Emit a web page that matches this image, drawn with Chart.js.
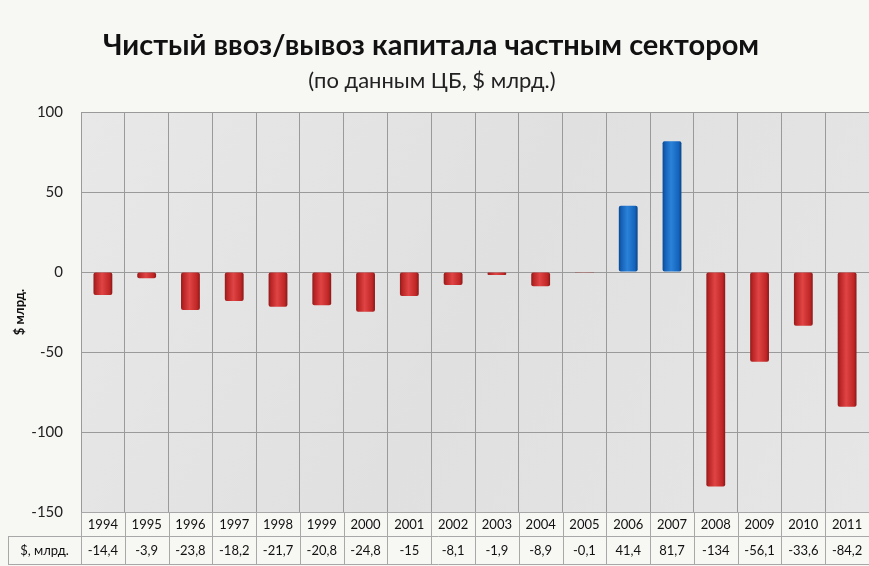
<!DOCTYPE html>
<html><head><meta charset="utf-8">
<script src="https://cdn.jsdelivr.net/npm/chart.js@4/dist/chart.umd.min.js"></script>
<style>html,body{margin:0;padding:0;background:#f7f7f4;overflow:hidden}#wrap{width:869px;height:566px}</style>
</head><body><div id="wrap"><canvas id="c" width="869" height="566"></canvas></div>
<script>
const years = ['1994','1995','1996','1997','1998','1999','2000','2001','2002','2003','2004','2005','2006','2007','2008','2009','2010','2011'];
const values = [-14.4,-3.9,-23.8,-18.2,-21.7,-20.8,-24.8,-15,-8.1,-1.9,-8.9,-0.1,41.4,81.7,-134,-56.1,-33.6,-84.2];
const yTicks = [100,50,0,-50,-100,-150];
const rowLabel = '$, млрд.';
const titleText = 'Чистый ввоз/вывоз капитала частным сектором';
const subtitleText = '(по данным ЦБ, $ млрд.)';
const yTitle = '$ млрд.';
const FONT = 'Lato, "Open Sans", sans-serif';

function fmt(v){ return String(v).replace('.', ','); }

function barFill(c){
  const v = c.raw;
  const neg = v < 0;
  const chart = c.chart, xs = chart.scales.x;
  if (!xs || c.dataIndex === undefined || !chart.chartArea) return neg ? '#c62a2a' : '#1769c4';
  const cx = xs.getPixelForValue(c.dataIndex);
  const w = xs.width / years.length * 0.43;
  const g = chart.ctx.createLinearGradient(cx - w/2, 0, cx + w/2, 0);
  if (neg) {
    g.addColorStop(0, '#8f1c1c'); g.addColorStop(0.12, '#b82424');
    g.addColorStop(0.45, '#e04444'); g.addColorStop(0.85, '#c02626'); g.addColorStop(1, '#8a1818');
  } else {
    g.addColorStop(0, '#0b4a8f'); g.addColorStop(0.12, '#135fb5');
    g.addColorStop(0.45, '#2a82d8'); g.addColorStop(0.85, '#1463bc'); g.addColorStop(1, '#0a4585');
  }
  return g;
}

const bgPlugin = {
  id: 'bg',
  beforeDraw(chart){
    const {ctx, chartArea:a} = chart;
    ctx.save();
    ctx.fillStyle = '#f7f7f4';
    ctx.fillRect(0,0,chart.width,chart.height);
    const g = ctx.createLinearGradient(a.left, a.top, a.right, a.bottom);
    g.addColorStop(0, '#e8e8e8'); g.addColorStop(0.5, '#e0e0e0'); g.addColorStop(1, '#e6e6e6');
    ctx.fillStyle = g;
    ctx.fillRect(a.left, a.top, a.right - a.left, a.bottom - a.top);
    ctx.fillStyle = '#111';
    ctx.textAlign = 'center'; ctx.textBaseline = 'middle';
    ctx.font = 'bold 29px ' + FONT;
    ctx.fillText(titleText, 431, 46);
    ctx.font = '22px ' + FONT;
    ctx.fillStyle = '#222';
    ctx.fillText(subtitleText, 432, 81);
    ctx.restore();
  }
};

const tablePlugin = {
  id: 'table',
  afterDraw(chart){
    const {ctx, chartArea:a} = chart;
    const xs = chart.scales.x;
    const n = years.length;
    const cw = (a.right - a.left) / n;
    const y0 = a.bottom, y1 = a.bottom + 24, y2 = a.bottom + 53;
    const hx = 8;
    ctx.save();
    ctx.strokeStyle = '#a8a8a8'; ctx.lineWidth = 1;
    ctx.beginPath();
    ctx.moveTo(a.left, y0 + 0.5); ctx.lineTo(a.right, y0 + 0.5);
    ctx.moveTo(hx, y1 + 0.5); ctx.lineTo(a.right, y1 + 0.5);
    ctx.moveTo(hx, y2 - 0.5); ctx.lineTo(a.right, y2 - 0.5);
    ctx.moveTo(hx + 0.5, y1); ctx.lineTo(hx + 0.5, y2);
    for (let i = 0; i <= n; i++) {
      const x = Math.round(a.left + i * cw) + 0.5;
      ctx.moveTo(x, y0); ctx.lineTo(x, y2);
    }
    ctx.stroke();
    ctx.fillStyle = '#111';
    ctx.font = '13px ' + FONT;
    ctx.textAlign = 'center'; ctx.textBaseline = 'middle';
    for (let i = 0; i < n; i++) {
      const cx = xs.getPixelForValue(i);
      ctx.fillText(years[i], cx, (y0 + y1) / 2 + 1);
      ctx.fillText(fmt(values[i]), cx, (y1 + y2) / 2);
    }
    ctx.fillText(rowLabel, (hx + a.left) / 2, (y1 + y2) / 2);
    ctx.restore();
  }
};

new Chart(document.getElementById('c'), {
  type: 'bar',
  data: {
    labels: years,
    datasets: [{
      data: values,
      backgroundColor: barFill,
      borderWidth: 0,
      borderRadius: 2,
      borderSkipped: false,
      barPercentage: 0.43,
      categoryPercentage: 1
    }]
  },
  options: {
    responsive: false,
    animation: false,
    layout: { padding: { top: 112, bottom: 54, left: 0, right: -4 } },
    plugins: { legend: { display: false }, tooltip: { enabled: false }, title: { display: false } },
    scales: {
      x: {
        offset: true,
        ticks: { display: false },
        grid: { offset: true, color: '#9a9a9a', drawTicks: false, lineWidth: 1 },
        border: { display: false }
      },
      y: {
        min: -150, max: 100,
        afterBuildTicks(s){ s.ticks = yTicks.map(v => ({ value: v })); },
        afterFit(s){ s.width = 81; },
        ticks: { padding: 18, color: '#222', font: { family: FONT, size: 15 }, callback: v => String(v) },
        grid: { color: '#9a9a9a', drawTicks: false, lineWidth: 1 },
        border: { display: true, color: '#9a9a9a' },
        title: { display: true, text: yTitle, color: '#111', font: { family: FONT, size: 13, weight: 'bold' }, padding: { top: 12, bottom: 0 } }
      }
    }
  },
  plugins: [bgPlugin, tablePlugin]
});
</script>
</body></html>
